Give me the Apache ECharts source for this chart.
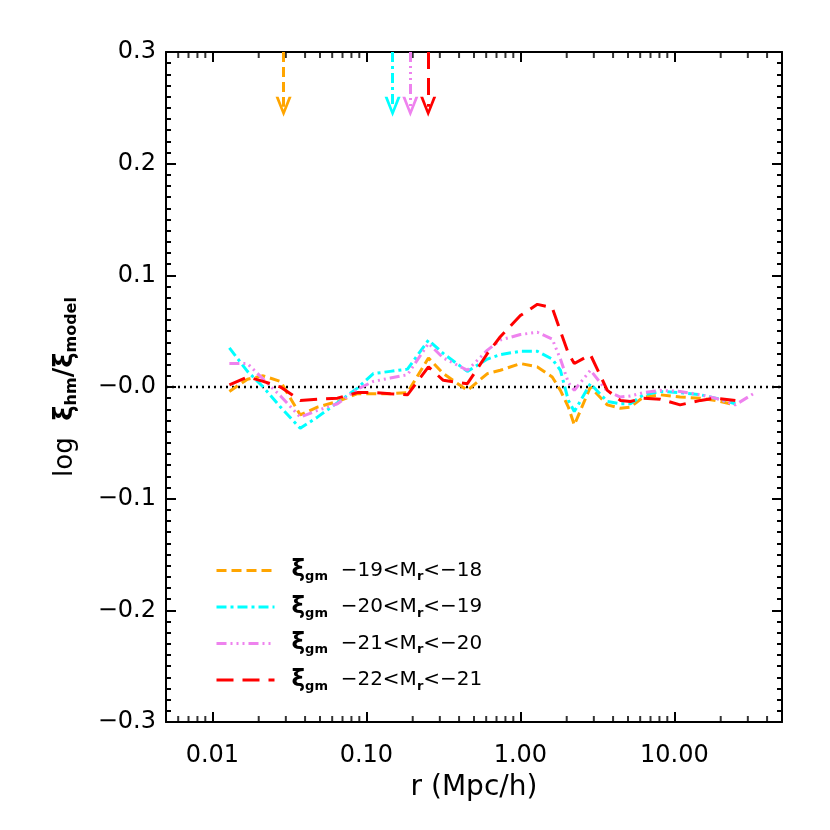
<!DOCTYPE html>
<html>
<head>
<meta charset="utf-8">
<script src="https://cdn.jsdelivr.net/npm/echarts@6/dist/echarts.min.js"></script>
<style>
  html, body { margin: 0; padding: 0; background: #fff; }
  #chart { width: 830px; height: 830px; }
</style>
</head>
<body>
<div id="chart"></div>
<script>
// radial bins (Mpc/h)
const rBins = [0.0129, 0.0169, 0.0214, 0.0277, 0.0372, 0.0481, 0.0649, 0.0875, 0.111, 0.143, 0.185,
  0.253, 0.316, 0.453, 0.611, 0.741, 1.0, 1.29, 1.61, 1.82, 2.05, 2.24, 2.85, 3.67, 4.46, 5.18,
  6.29, 8.11, 10.9, 14.8, 18.5, 24.9, 32.6]

// log xi_hm / xi_model for each magnitude bin
const ratio19 = [-0.004, 0.007, 0.010, 0.005, -0.025, -0.018, -0.013, -0.006, -0.006, -0.006, -0.005,
  0.026, 0.012, -0.003, 0.012, 0.015, 0.021, 0.018, 0.009, -0.003, -0.018, -0.034, 0.000, -0.016,
  -0.019, -0.018, -0.009, -0.007, -0.009, -0.010, -0.012, -0.016, null]
const ratio20 = [0.035, 0.014, 0.000, -0.018, -0.037, -0.027, -0.014, -0.001, 0.012, 0.014, 0.016,
  0.042, 0.030, 0.014, 0.025, 0.029, 0.032, 0.032, 0.025, 0.015, -0.012, -0.022, 0.003, -0.013,
  -0.015, -0.015, -0.007, -0.004, -0.005, -0.007, -0.010, -0.015, null]
const ratio21 = [0.021, 0.021, 0.007, -0.008, -0.027, -0.021, -0.015, -0.002, 0.005, 0.008, 0.011,
  0.039, 0.026, 0.015, 0.033, 0.042, 0.047, 0.049, 0.043, 0.025, 0.004, -0.003, 0.015, -0.004,
  -0.009, -0.008, -0.005, -0.003, -0.004, -0.007, -0.010, -0.016, -0.006]
const ratio22 = [0.002, 0.009, 0.005, 0.000, -0.012, -0.011, -0.010, -0.005, -0.005, -0.006, -0.007,
  0.018, 0.006, 0.003, 0.030, 0.045, 0.064, 0.074, 0.071, 0.050, 0.030, 0.021, 0.029, -0.003,
  -0.012, -0.013, -0.010, -0.011, -0.016, -0.012, -0.010, -0.012, null]

// arrow markers at the top
const arrowR = [0.029, 0.148, 0.193, 0.252]
const arrowTop = 0.3
const arrowEnd = 0.251

// legend text
const magBins = [['−19', '−18'], ['−20', '−19'], ['−21', '−20'], ['−22', '−21']]

// log minor tick positions
const minorR = [0.006, 0.007, 0.008, 0.009, 0.02, 0.03, 0.04, 0.05, 0.06, 0.07, 0.08, 0.09,
  0.2, 0.3, 0.4, 0.5, 0.6, 0.7, 0.8, 0.9, 2, 3, 4, 5, 6, 7, 8, 9, 20, 30, 40]

const colors = ['#FFA500', '#00FFFF', '#EE82EE', '#FF0000']
const dashes = [
  [10, 5],
  [10, 4, 3, 4],
  [10, 4, 2, 4, 2, 4, 2, 4],
  [17, 9]
]
const names = ['m19', 'm20', 'm21', 'm22']
const allRatios = [ratio19, ratio20, ratio21, ratio22]

const FONT = 'DejaVu Sans'
const chevron = 'path://M0,20 L8,0 L16,20 L13,20 L8,7 L3,20 Z'

const chart = echarts.init(document.getElementById('chart'))

const xBase = {
  type: 'log',
  logBase: 10,
  min: 0.005,
  max: 50,
  splitNumber: 4,
  axisLine: { onZero: false, lineStyle: { color: '#000', width: 2 } },
  axisTick: { inside: true, length: 10, lineStyle: { color: '#000', width: 2 } },
  splitLine: { show: false }
}
const yBase = {
  type: 'value',
  min: -0.3,
  max: 0.3,
  interval: 0.1,
  axisLine: { show: true, onZero: false, lineStyle: { color: '#000', width: 2 } },
  axisTick: { show: true, inside: true, length: 10, lineStyle: { color: '#000', width: 2 } },
  splitLine: { show: false }
}
// short ticks every 0.01
const yMinor = {
  type: 'value',
  min: -0.3,
  max: 0.3,
  interval: 0.01,
  axisLine: { show: false },
  axisTick: { show: true, inside: true, length: 5, lineStyle: { color: '#000', width: 2 } },
  axisLabel: { show: false },
  splitLine: { show: false }
}

const subRich = {
  x: { fontSize: 23, fontFamily: FONT, fontWeight: 'bold', color: '#000', lineHeight: 26 },
  s: { fontSize: 13, fontFamily: FONT, fontWeight: 'bold', color: '#000', verticalAlign: 'bottom', lineHeight: 14 },
  t: { fontSize: 20, fontFamily: FONT, color: '#000', lineHeight: 26 }
}

const series = names.map((name, i) => ({
  name: name,
  type: 'line',
  data: rBins.map((r, k) => [r, allRatios[i][k]]),
  symbol: 'none',
  connectNulls: false,
  lineStyle: { color: colors[i], width: 3, type: dashes[i] },
  itemStyle: { color: colors[i] },
  markLine: {
    silent: true,
    symbol: ['none', chevron],
    symbolSize: [16, 20],
    label: { show: false },
    lineStyle: { color: colors[i], width: 3, type: dashes[i] },
    data: [[{ coord: [arrowR[i], arrowTop] }, { coord: [arrowR[i], arrowEnd] }]]
  }
}))

// dotted zero line
series.push({
  name: 'zero',
  type: 'line',
  data: [[0.005, 0], [50, 0]],
  symbol: 'none',
  silent: true,
  z: 1,
  lineStyle: { color: '#000', width: 2.5, type: [2, 4] }
})
// minor log ticks, bottom and top
series.push({
  name: 'minorBottom',
  type: 'scatter',
  data: minorR.map(r => [r, -0.3]),
  symbol: 'rect',
  symbolSize: [2, 6],
  symbolOffset: [0, -3],
  clip: false,
  silent: true,
  itemStyle: { color: '#000' }
})
series.push({
  name: 'minorTop',
  type: 'scatter',
  data: minorR.map(r => [r, 0.3]),
  symbol: 'rect',
  symbolSize: [2, 6],
  symbolOffset: [0, 3],
  clip: false,
  silent: true,
  itemStyle: { color: '#000' }
})

const option = {
  animation: false,
  backgroundColor: '#fff',
  grid: { left: 166, right: 48, top: 52, bottom: 108 },
  legend: {
    data: names,
    orient: 'vertical',
    left: 210,
    top: 554,
    itemWidth: 58,
    itemHeight: 14,
    itemGap: 12,
    selectedMode: false,
    itemStyle: { opacity: 0 },
    lineStyle: { width: 3 },
    formatter: name => {
      const b = magBins[names.indexOf(name)]
      return '{x|ξ}{s|gm}{t|  ' + b[0] + '<M}{s|r}{t|<' + b[1] + '}'
    },
    textStyle: { padding: [0, 0, 0, 12], rich: subRich }
  },
  xAxis: [
    Object.assign({}, xBase, {
      position: 'bottom',
      name: 'r (Mpc/h)',
      nameLocation: 'middle',
      nameGap: 52,
      nameTextStyle: { fontSize: 28, fontFamily: FONT, color: '#000' },
      axisLabel: {
        fontSize: 24,
        fontFamily: FONT,
        color: '#000',
        margin: 22,
        formatter: v => {
          const p = Math.log10(v)
          return Math.abs(p - Math.round(p)) < 1e-6 ? v.toFixed(2) : ''
        }
      }
    }),
    Object.assign({}, xBase, { position: 'top', axisLabel: { show: false } })
  ],
  yAxis: [
    Object.assign({}, yBase, {
      position: 'left',
      name: 'log  {x|ξ}{s|hm}{x|/ξ}{s|model}',
      nameLocation: 'middle',
      nameRotate: 90,
      nameGap: 86,
      nameTextStyle: {
        fontSize: 26,
        fontFamily: FONT,
        color: '#000',
        rich: {
          x: { fontSize: 26, fontFamily: FONT, fontWeight: 'bold', color: '#000', lineHeight: 30 },
          s: { fontSize: 16, fontFamily: FONT, fontWeight: 'bold', color: '#000', verticalAlign: 'bottom', lineHeight: 16 }
        }
      },
      axisLabel: {
        fontSize: 24,
        fontFamily: FONT,
        color: '#000',
        margin: 10,
        formatter: v => {
          if (Math.abs(v) < 1e-9) return '−0.0'
          return (v < 0 ? '−' : '') + Math.abs(v).toFixed(1)
        }
      }
    }),
    Object.assign({}, yBase, { position: 'right', axisLabel: { show: false } }),
    Object.assign({}, yMinor, { position: 'left' }),
    Object.assign({}, yMinor, { position: 'right' })
  ],
  series: series
}

chart.setOption(option)
</script>
</body>
</html>
